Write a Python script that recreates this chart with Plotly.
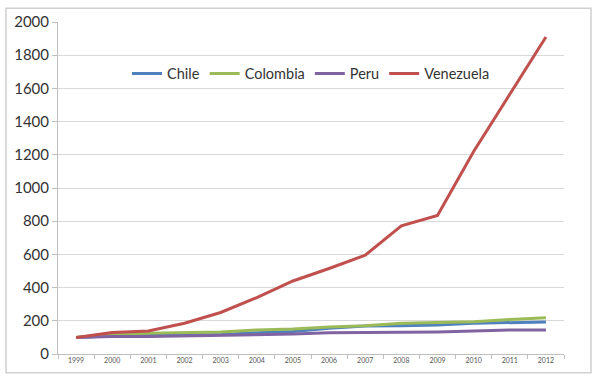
import plotly.graph_objects as go

years = [str(y) for y in range(1999, 2013)]
chile = [100, 110, 112, 115, 118, 128, 135, 155, 168, 170, 175, 185, 190, 193]
colombia = [100, 120, 125, 128, 132, 145, 150, 162, 170, 185, 190, 195, 208, 218]
peru = [100, 105, 105, 108, 110, 115, 120, 128, 128, 128, 132, 138, 145, 145]
venezuela = [100, 130, 138, 185, 250, 340, 440, 515, 595, 772, 835, 1220, 1565, 1910]

series = [
    ("Chile", chile, "#4F81BD"),
    ("Colombia", colombia, "#9BBB59"),
    ("Peru", peru, "#8064A2"),
    ("Venezuela", venezuela, "#C0504D"),
]

fig = go.Figure()
for name, vals, color in series:
    fig.add_trace(go.Scatter(x=years, y=vals, name=name, mode="lines",
                             line=dict(color=color, width=3)))

W, H = 596, 383
L, R, T, B = 58, 32, 19, 29
pw, ph = W - L - R, H - T - B

def px(x):
    return (x - L) / pw

def py(y):
    return (H - B - y) / ph

fig.update_layout(
    width=W, height=H,
    margin=dict(l=L, r=R, t=T, b=B),
    paper_bgcolor="white", plot_bgcolor="white",
    font=dict(family="Lato, 'Open Sans', sans-serif", color="#333333"),
    showlegend=True,
    legend=dict(orientation="h", x=px(127), y=py(71), xanchor="left", yanchor="middle",
                font=dict(size=14.5, color="#333333"), bgcolor="rgba(0,0,0,0)",
                itemwidth=30, tracegroupgap=0),
    xaxis=dict(type="category", range=[-0.5, len(years) - 0.5], showgrid=False,
               showline=True, linecolor="#BFBFBF",
               linewidth=1, ticks="outside", tickson="boundaries", ticklen=4,
               tickcolor="#BFBFBF", tickfont=dict(size=7, color="#555555"),
               zeroline=False, fixedrange=True),
    yaxis=dict(range=[0, 2000], dtick=200, showgrid=True, gridcolor="#D9D9D9",
               gridwidth=1, showline=True, linecolor="#BFBFBF", linewidth=1,
               ticks="outside", ticklen=5, tickcolor="#BFBFBF",
               tickfont=dict(size=15, color="#333333"), zeroline=False),
    shapes=[dict(type="rect", xref="paper", yref="paper",
                 x0=px(6), x1=px(591), y0=py(373), y1=py(5),
                 line=dict(color="#D0D0D0", width=1.5), layer="below")],
)

fig.write_html("out.html")
